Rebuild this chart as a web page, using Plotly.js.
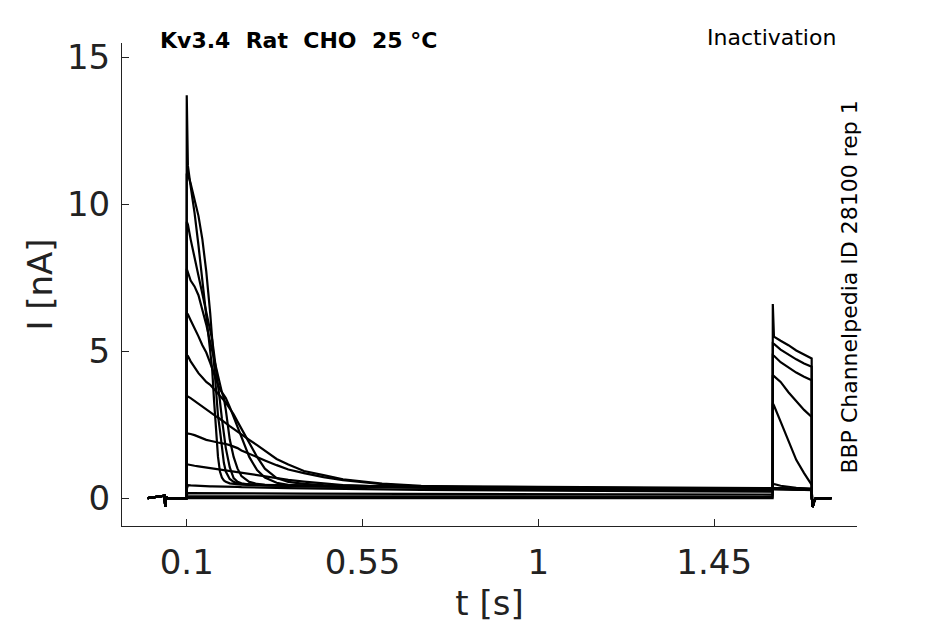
<!DOCTYPE html>
<html>
<head>
<meta charset="utf-8">
<script src="https://cdn.plot.ly/plotly-3.0.1.min.js"></script>
<style>
  html, body { margin: 0; padding: 0; background: #fff; }
  #chart { width: 945px; height: 624px; }
</style>
</head>
<body>
<div id="chart"></div>
<script>
// ── Recording segments (t in s, I in nA) ─────────────────────
var holdT = [0, 0.043, 0.045, 0.047, 0.05, 0.0995];
var holdI = [0, 0.08, -0.3, 0.05, 0, 0];

// prepulse, dense sampling for the fast-inactivating sweeps
var preT = [0.1, 0.103, 0.11, 0.12, 0.13, 0.14, 0.15, 0.16, 0.165, 0.17,
            0.175, 0.18, 0.185, 0.19, 0.195, 0.2, 0.21, 0.22, 0.23, 0.24,
            0.26, 0.28, 0.3, 0.33, 0.36, 0.4, 0.45, 0.5, 0.6, 0.7,
            0.8, 1.0, 1.2, 1.4, 1.5995];
// prepulse, coarse sampling for the near-flat sweeps
var preCoarseT = [0.1, 0.103, 0.4, 0.8, 1.2, 1.5995];

var testT = [1.6, 1.603, 1.62, 1.64, 1.66, 1.68, 1.6995];
var tailT = [1.7, 1.702, 1.706, 1.71, 1.75];
var tailI = [0, -0.3, -0.1, 0, 0];

var pre0  = [13.7, 11.3, 10.6, 9.7, 8.6, 7.4, 6.2, 5.2, 4.4, 3.3, 2.2, 1.4, 0.9, 0.7, 0.6, 0.55, 0.5, 0.48, 0.47, 0.46, 0.45, 0.45, 0.44, 0.44, 0.43, 0.43, 0.42, 0.42, 0.41, 0.4, 0.4, 0.38, 0.37, 0.36, 0.35];
var pre1  = [11.0, 11.0, 10.7, 10.2, 9.6, 8.8, 7.7, 6.3, 5.4, 4.5, 3.5, 2.8, 2.3, 1.7, 1.2, 0.9, 0.65, 0.55, 0.5, 0.48, 0.46, 0.45, 0.44, 0.43, 0.42, 0.42, 0.41, 0.4, 0.39, 0.38, 0.37, 0.35, 0.34, 0.33, 0.32];
var pre2  = [9.4, 9.3, 8.8, 8.2, 7.5, 6.9, 6.4, 5.8, 5.4, 4.9, 4.4, 3.8, 3.3, 2.7, 2.2, 1.7, 1.05, 0.68, 0.55, 0.5, 0.46, 0.44, 0.43, 0.42, 0.41, 0.4, 0.4, 0.39, 0.38, 0.37, 0.36, 0.34, 0.33, 0.32, 0.31];
var pre3  = [7.8, 7.7, 7.4, 7.2, 6.9, 6.4, 5.9, 5.3, 5.0, 4.7, 4.4, 4.1, 3.8, 3.6, 3.4, 3.0, 2.0, 1.4, 1.0, 0.75, 0.55, 0.48, 0.45, 0.42, 0.41, 0.4, 0.39, 0.38, 0.37, 0.36, 0.35, 0.33, 0.32, 0.31, 0.3];
var pre4  = [6.3, 6.25, 6.05, 5.8, 5.5, 5.2, 4.95, 4.6, 4.4, 4.2, 4.0, 3.85, 3.7, 3.6, 3.5, 3.4, 3.1, 2.75, 2.4, 2.05, 1.4, 0.95, 0.7, 0.52, 0.45, 0.42, 0.4, 0.39, 0.37, 0.36, 0.35, 0.33, 0.31, 0.3, 0.29];
var pre5  = [4.86, 4.83, 4.65, 4.45, 4.25, 4.1, 3.95, 3.85, 3.78, 3.7, 3.62, 3.55, 3.48, 3.4, 3.33, 3.25, 3.05, 2.85, 2.6, 2.35, 1.85, 1.4, 1.0, 0.68, 0.55, 0.48, 0.44, 0.42, 0.4, 0.38, 0.37, 0.35, 0.33, 0.32, 0.3];
var pre6  = [3.46, 3.45, 3.4, 3.3, 3.2, 3.1, 3.0, 2.92, 2.87, 2.83, 2.78, 2.74, 2.7, 2.65, 2.6, 2.55, 2.45, 2.35, 2.26, 2.18, 1.98, 1.8, 1.6, 1.33, 1.14, 0.92, 0.78, 0.64, 0.49, 0.42, 0.38, 0.34, 0.32, 0.31, 0.3];
var pre7  = [2.2, 2.2, 2.18, 2.14, 2.08, 2.02, 1.98, 1.95, 1.93, 1.92, 1.9, 1.89, 1.88, 1.87, 1.86, 1.84, 1.8, 1.75, 1.7, 1.62, 1.5, 1.39, 1.28, 1.12, 0.97, 0.85, 0.71, 0.61, 0.47, 0.39, 0.34, 0.3, 0.28, 0.27, 0.26];
var pre8  = [1.15, 1.14, 1.12, 1.1, 1.08, 1.06, 1.04, 1.02, 1.01, 1.0, 0.99, 0.98, 0.97, 0.96, 0.95, 0.94, 0.92, 0.9, 0.87, 0.85, 0.81, 0.78, 0.74, 0.68, 0.62, 0.56, 0.5, 0.44, 0.39, 0.35, 0.32, 0.28, 0.26, 0.25, 0.24];
var pre9  = [0.3, 0.44, 0.43, 0.42, 0.42, 0.41, 0.41, 0.4, 0.4, 0.4, 0.4, 0.4, 0.39, 0.39, 0.39, 0.39, 0.38, 0.38, 0.38, 0.37, 0.37, 0.36, 0.36, 0.35, 0.34, 0.33, 0.32, 0.31, 0.29, 0.28, 0.27, 0.25, 0.24, 0.23, 0.22];
var pre10 = [0.1, 0.17, 0.15, 0.14, 0.13, 0.12];
var pre11 = [0.04, 0.06, 0.06, 0.05, 0.05, 0.05];
var pre12 = [0, 0.01, 0.01, 0, 0, 0];

var test0  = [0.36, 0.35, 0.34, 0.33, 0.33, 0.32, 0.32];
var test1  = [0.34, 0.33, 0.32, 0.32, 0.31, 0.31, 0.3];
var test2  = [0.33, 0.32, 0.31, 0.31, 0.3, 0.3, 0.29];
var test3  = [0.32, 0.31, 0.3, 0.3, 0.29, 0.29, 0.28];
var test4  = [0.3, 0.3, 0.29, 0.29, 0.28, 0.28, 0.27];
var test5  = [0.32, 0.31, 0.3, 0.3, 0.29, 0.29, 0.28];
var test6  = [0.34, 0.33, 0.32, 0.31, 0.3, 0.3, 0.29];
var test7  = [0.5, 0.48, 0.42, 0.38, 0.35, 0.33, 0.31];
var test8  = [3.22, 3.15, 2.6, 1.95, 1.3, 0.85, 0.45];
var test9  = [4.18, 4.15, 3.95, 3.6, 3.3, 3.0, 2.76];
var test10 = [4.86, 4.84, 4.62, 4.44, 4.27, 4.13, 4.01];
var test11 = [5.26, 5.24, 5.05, 4.88, 4.72, 4.58, 4.47];
var test12 = [6.6, 5.49, 5.35, 5.2, 5.02, 4.88, 4.75];

var xTicks = [0.1, 0.55, 1, 1.45];
var yTicks = [0, 5, 10, 15];

var sweeps = [
    [preT, pre0, test0], [preT, pre1, test1], [preT, pre2, test2],
    [preT, pre3, test3], [preT, pre4, test4], [preT, pre5, test5],
    [preT, pre6, test6], [preT, pre7, test7], [preT, pre8, test8],
    [preT, pre9, test9], [preCoarseT, pre10, test10],
    [preCoarseT, pre11, test11], [preCoarseT, pre12, test12]
];

var FONT = 'DejaVu Sans, sans-serif';
var INK  = '#222222';
var NB   = '\u00a0';

var traces = sweeps.map(function (s) {
    return {
        x: holdT.concat(s[0], testT, tailT),
        y: holdI.concat(s[1], s[2], tailI),
        mode: 'lines', type: 'scatter',
        line: { color: '#000000', width: 2.2 },
        hoverinfo: 'skip', showlegend: false
    };
});

var axisCommon = {
    showgrid: false, zeroline: false, showline: true,
    linecolor: INK, linewidth: 1,
    ticks: 'inside', ticklen: 7, tickwidth: 1, tickcolor: INK,
    tickfont: { family: FONT, size: 34, color: INK },
    tickmode: 'array'
};

var layout = {
    width: 945, height: 624,
    paper_bgcolor: '#ffffff', plot_bgcolor: '#ffffff',
    margin: { l: 122, r: 88, t: 43, b: 98 },
    xaxis: Object.assign({}, axisCommon, {
        range: [-0.0657, 1.8155], tickvals: xTicks,
        ticktext: xTicks.map(String), ticklabelstandoff: 6,
        title: { text: 't [s]', font: { family: FONT, size: 34, color: INK }, standoff: 10 }
    }),
    yaxis: Object.assign({}, axisCommon, {
        range: [-0.95, 15.48], tickvals: yTicks,
        ticktext: yTicks.map(String), ticklabelstandoff: 4,
        title: { text: 'I [nA]', font: { family: FONT, size: 34, color: INK }, standoff: 4 }
    }),
    annotations: [
        { xref: 'paper', yref: 'paper', x: 0.049, y: 1.006, xanchor: 'left', yanchor: 'middle',
          text: '<b>Kv3.4' + NB + ' Rat' + NB + ' CHO' + NB + ' 25 °C</b>', showarrow: false,
          font: { family: FONT, size: 22, color: '#000' } },
        { xref: 'paper', yref: 'paper', x: 0.974, y: 1.012, xanchor: 'right', yanchor: 'middle',
          text: 'Inactivation', showarrow: false,
          font: { family: FONT, size: 22, color: '#000' } },
        { xref: 'paper', yref: 'paper', x: 0.99, y: 0.495, xanchor: 'center', yanchor: 'middle',
          text: 'BBP Channelpedia ID 28100 rep 1', showarrow: false, textangle: -90,
          font: { family: FONT, size: 22, color: '#000' } }
    ]
};

Plotly.newPlot('chart', traces, layout, { displayModeBar: false, staticPlot: true });
</script>
</body>
</html>
